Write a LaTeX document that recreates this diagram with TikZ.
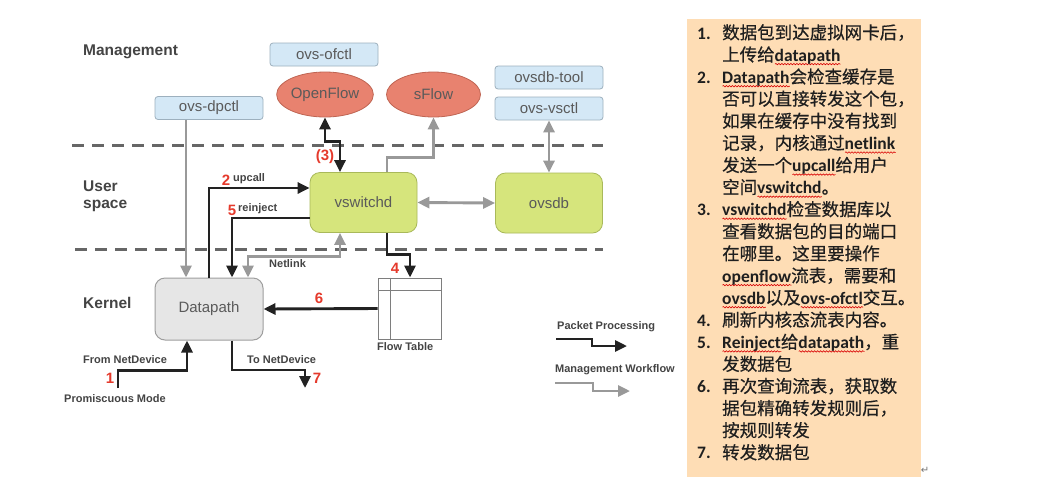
\documentclass[tikz,border=0pt]{standalone}
\usepackage{fontspec}
\setmainfont{Liberation Sans}
\newfontfamily\cjk{Noto Sans CJK SC}[FakeBold=0.5]
\newfontfamily\calfont{Carlito}
\newfontfamily\symfont{DejaVu Sans}
\usetikzlibrary{arrows.meta,shapes.geometric,calc,decorations.pathmorphing}
\definecolor{toolfill}{HTML}{D4E8F6}
\definecolor{toolborder}{HTML}{9DB0BE}
\definecolor{ellfill}{HTML}{E8826F}
\definecolor{ellborder}{HTML}{BF6553}
\definecolor{greenfill}{HTML}{D6E57C}
\definecolor{greenborder}{HTML}{A9B95A}
\definecolor{dpfill}{HTML}{E6E6E6}
\definecolor{dpborder}{HTML}{9E9E9E}
\definecolor{arrgray}{HTML}{999999}
\definecolor{arrblack}{HTML}{222222}
\definecolor{txtgray}{HTML}{5A5A5A}
\definecolor{lblc}{HTML}{444444}
\definecolor{numred}{HTML}{E53A2C}
\definecolor{panelc}{HTML}{FEDDB5}
\definecolor{dashc}{HTML}{666666}
\newsavebox\wbox
\newcommand\lw[1]{\sbox\wbox{\calfont\bfseries #1}\rlap{\tikz[baseline=0pt]\draw[red!85!black, line width=0.6pt, decorate, decoration={snake, amplitude=0.7pt, segment length=3pt}] (0pt,-3pt) -- (\wd\wbox,-3pt);}\usebox\wbox}
\tikzset{
  x=1pt, y=-1pt,
  tool/.style={rectangle, rounded corners=3pt, fill=toolfill, draw=toolborder, line width=0.8pt,
    minimum width=108pt, minimum height=23pt, inner sep=0pt, text=txtgray, font=\fontsize{15}{18}\selectfont},
  ell/.style={ellipse, fill=ellfill, draw=ellborder, line width=0.8pt, minimum width=94pt,
    minimum height=45pt, inner sep=0pt, text=txtgray, font=\fontsize{15}{18}\selectfont},
  gbox/.style={rectangle, rounded corners=10pt, fill=greenfill, draw=greenborder, line width=0.8pt,
    minimum width=107pt, minimum height=60pt, inner sep=0pt, text=txtgray, font=\fontsize{15}{18}\selectfont},
  dpbox/.style={rectangle, rounded corners=10pt, fill=dpfill, draw=dpborder, line width=1pt,
    minimum width=108pt, minimum height=62pt, inner sep=0pt, text=txtgray, font=\fontsize{15}{18}\selectfont},
  ftbox/.style={rectangle, draw=dpborder!80!black, line width=1pt, fill=white,
    minimum width=63pt, minimum height=61pt, inner sep=0pt},
  blk/.style={draw=arrblack, line width=2.9pt, -{Triangle[length=12pt,width=11pt]}},
  gry/.style={draw=arrgray, line width=2.9pt, -{Triangle[length=12pt,width=11pt]}},
  both/.style={{Triangle[length=12pt,width=11pt]}-{Triangle[length=12pt,width=11pt]}},
  dashline/.style={draw=dashc, line width=3pt, dash pattern=on 12pt off 8pt},
  head/.style={font=\fontsize{15.5}{17}\selectfont\bfseries, text=lblc, inner sep=0pt, anchor=west, align=left},
  lbl/.style={font=\fontsize{11}{13}\selectfont\bfseries, text=lblc, inner sep=0pt, anchor=west},
  num/.style={font=\fontsize{15}{17}\selectfont\bfseries, text=numred, inner sep=0pt},
  ptxt/.style={font=\fontsize{17.5}{22}\selectfont\cjk, text=black!88, inner sep=0pt, anchor=base west},
  pnum/.style={font=\fontsize{17.5}{22}\selectfont\calfont\bfseries, text=black!88, inner sep=0pt, anchor=base west},
}
\begin{document}
\begin{tikzpicture}
\useasboundingbox (0,0) rectangle (1046,499);
\fill[white] (0,0) rectangle (1046,499);

% layer separators
\draw[dashline] (72,145) -- (603,145);
\draw[dashline] (75,249) -- (603,249);

% layer headings
\node[head] (hmgmt) at (83,52) {Management};
\node[head] (huser) at (83,196.5) {User\\[0pt]space};
\node[head] (hkern) at (83,303) {Kernel};

% nodes
\node[tool] (ofctl) at (324,54.5) {ovs-ofctl};
\node[ell] (openflow) at (325,94.5) {OpenFlow};
\node[ell] (sflow) at (433.5,94.5) {sFlow};
\node[tool] (dpctl) at (209,108) {ovs-dpctl};
\node[tool] (dbtool) at (549,77.5) {ovsdb-tool};
\node[tool] (vsctl) at (549,108.5) {ovs-vsctl};
\node[gbox] (vswitchd) at (363.5,202.5) {vswitchd};
\node[gbox] (ovsdb) at (549,203) {ovsdb};
\node[dpbox] (datapath) at (209,309) {Datapath};
\node[ftbox] (ft) at (409.5,308.5) {};
\draw[draw=dpborder!80!black, line width=1pt] ($(ft.north west)+(0,13)$) -- ($(ft.north east)+(0,13)$);
\draw[draw=dpborder!80!black, line width=1pt] ($(ft.north west)+(13,0)$) -- ($(ft.south west)+(13,0)$);
\node[lbl] (ftl) at (377,347) {Flow Table};

% management (gray) connectors
\draw[gry] ($(dpctl.south)+(-23,0)$) -- ($(datapath.north)+(-23,0)$);
\draw[gry] ($(vswitchd.north)+(23.5,0)$) |- ($(sflow.south)+(0,40)$) -- (sflow.south);
\draw[gry, both] (vsctl.south) -- (ovsdb.north);
\draw[gry, both] (vswitchd.east) -- (ovsdb.west);
\draw[gry, both] ($(datapath.north)+(39,0)$) |- ($(vswitchd.south)+(-23.5,24)$) -- ($(vswitchd.south)+(-23.5,0)$);
\node[lbl] (netlink) at (269,264) {Netlink};

% packet (black) connectors
\draw[blk] (datapath.north) |- ($(vswitchd.west)+(0,-14.5)$);
\node[num] (n2) at (226,180) {2};
\node[lbl] (lup) at (233,179) {upcall};
\draw[blk] ($(vswitchd.west)+(0,15.5)$) -| ($(datapath.north)+(23,0)$);
\node[num] (n5) at (232,210) {5};
\node[lbl] (lre) at (238,209) {reinject};
\draw[blk, both] (openflow.south) |- ($(vswitchd.north)+(-23.5,-31)$) -- ($(vswitchd.north)+(-23.5,0)$);
\node[num] (n3) at (325,157) {(3)};
\draw[blk] ($(vswitchd.south)+(23.5,0)$) |- ($(ft.north)+(0.5,-23)$) -- ($(ft.north)+(0.5,0)$);
\node[num] (n4) at (395,268) {4};
\draw[blk] (ft.west) -- (datapath.east);
\node[num] (n6) at (319,298) {6};
\coordinate (pm) at (118,388);
\draw[blk] (pm) |- ($(datapath.south)+(-22,30)$) -- ($(datapath.south)+(-22,0)$);
\node[num] (n1) at (110,378) {1};
\node[lbl] (lfrom) at (83,360) {From NetDevice};
\node[lbl] (lprom) at (64,399) {Promiscuous Mode};
\coordinate (tn) at (305,388);
\draw[blk] ($(datapath.south)+(23,0)$) |- ($(tn)+(0,-18)$) -- (tn);
\node[num] (n7) at (317,378) {7};
\node[lbl] (lto) at (247,360) {To NetDevice};

% legend
\node[lbl] (lpp) at (557,327) {Packet Processing};
\coordinate (lp1) at (556,339);
\coordinate (lp2) at (627,346);
\draw[blk] (lp1) -- (592,339) |- (lp2);
\node[lbl] (lmw) at (555,370) {Management Workflow};
\coordinate (lm1) at (555,383);
\coordinate (lm2) at (630,391);
\draw[gry] (lm1) -- (593,383) |- (lm2);

% text panel
\node[rectangle, fill=panelc, minimum width=234pt, minimum height=458pt, inner sep=0pt, anchor=north west] (panel) at (687,19) {};
\node[pnum] (m1) at (697,39) {1.};
\node[ptxt] (p0) at (722,{39+22.1*0}) {数据包到达虚拟网卡后，};
\node[ptxt] (p1) at (722,{39+22.1*1}) {上传给\lw{datapath}};
\node[pnum] (m2) at (697,{39+22.1*2}) {2.};
\node[ptxt] (p2) at (722,{39+22.1*2}) {\lw{Datapath}会检查缓存是};
\node[ptxt] (p3) at (722,{39+22.1*3}) {否可以直接转发这个包，};
\node[ptxt] (p4) at (722,{39+22.1*4}) {如果在缓存中没有找到};
\node[ptxt] (p5) at (722,{39+22.1*5}) {记录，内核通过\lw{netlink}};
\node[ptxt] (p6) at (722,{39+22.1*6}) {发送一个\lw{upcall}给用户};
\node[ptxt] (p7) at (722,{39+22.1*7}) {空间\lw{vswitchd}。};
\node[pnum] (m3) at (697,{39+22.1*8}) {3.};
\node[ptxt] (p8) at (722,{39+22.1*8}) {\lw{vswitchd}检查数据库以};
\node[ptxt] (p9) at (722,{39+22.1*9}) {查看数据包的目的端口};
\node[ptxt] (p10) at (722,{39+22.1*10}) {在哪里。这里要操作};
\node[ptxt] (p11) at (722,{39+22.1*11}) {\lw{openflow}流表，需要和};
\node[ptxt] (p12) at (722,{39+22.1*12}) {\lw{ovsdb}以及\lw{ovs-ofctl}交互。};
\node[pnum] (m4) at (697,{39+22.1*13}) {4.};
\node[ptxt] (p13) at (722,{39+22.1*13}) {刷新内核态流表内容。};
\node[pnum] (m5) at (697,{39+22.1*14}) {5.};
\node[ptxt] (p14) at (722,{39+22.1*14}) {\lw{Reinject}给\lw{datapath}，重};
\node[ptxt] (p15) at (722,{39+22.1*15}) {发数据包};
\node[pnum] (m6) at (697,{39+22.1*16}) {6.};
\node[ptxt] (p16) at (722,{39+22.1*16}) {再次查询流表，获取数};
\node[ptxt] (p17) at (722,{39+22.1*17}) {据包精确转发规则后，};
\node[ptxt] (p18) at (722,{39+22.1*18}) {按规则转发};
\node[pnum] (m7) at (697,{39+22.1*19}) {7.};
\node[ptxt] (p19) at (722,{39+22.1*19}) {转发数据包};
\node[font=\fontsize{10}{12}\selectfont\symfont, text=black!55, inner sep=0pt] (ret) at (925,470) {↵};
\end{tikzpicture}
\end{document}
